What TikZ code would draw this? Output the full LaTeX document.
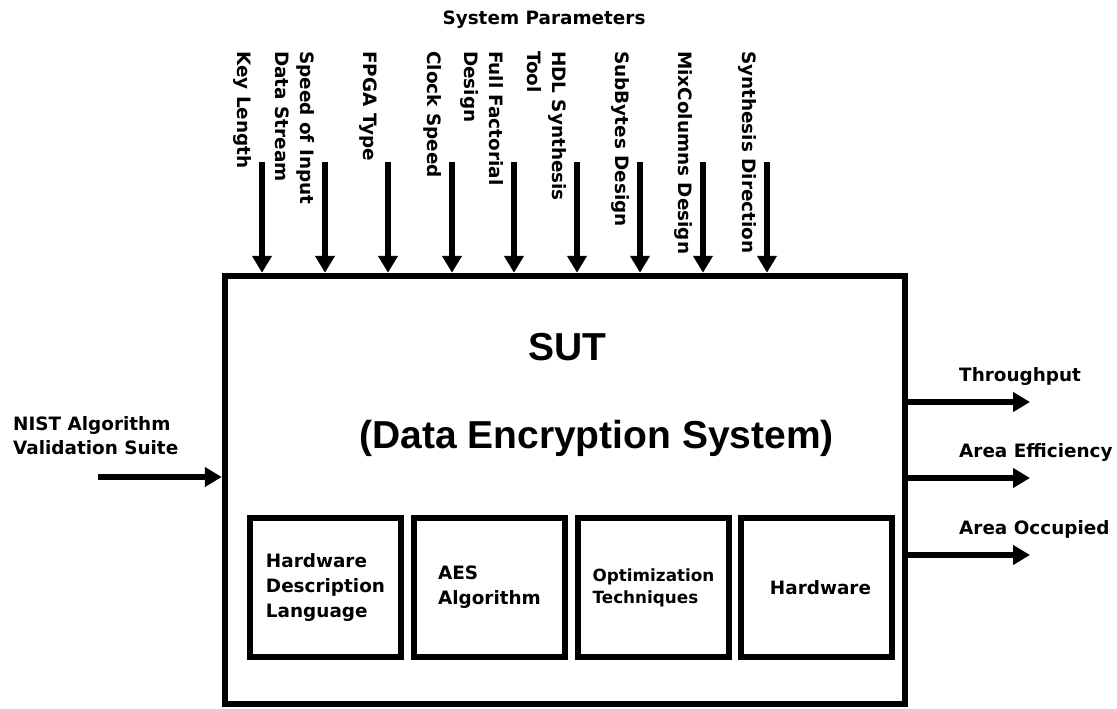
\documentclass[tikz,border=0pt]{standalone}
\usepackage{fontspec}
\setmainfont{DejaVu Sans}
\newfontfamily\titlefont{Liberation Sans}
\usetikzlibrary{arrows.meta}
\begin{document}
\begin{tikzpicture}[x=1pt,y=-1pt,
  lab/.style={font=\bfseries\fontsize{18.4}{24.5}\selectfont, inner sep=0pt, align=left},
  vlab/.style={lab, rotate=-90, anchor=north west},
  arr/.style={line width=6.7pt, -{Triangle[length=17pt,width=19pt]}},
  sutbox/.style={draw, line width=6.5pt, minimum width=680pt, minimum height=428pt, inner sep=0pt},
  subbox/.style={draw, line width=6pt, minimum width=151pt, minimum height=139pt, inner sep=0pt, align=left, font=\bfseries\fontsize{18.4}{25}\selectfont},
  ttl/.style={font=\titlefont\bfseries\fontsize{39}{45}\selectfont, inner sep=0pt, anchor=base}
]
\useasboundingbox (0,0) rectangle (1117,709);

\node[sutbox] (sut) at (565,490) {};

\node[ttl] (t1) at (567,360) {SUT};
\node[ttl] (t2) at (596.5,448) {(Data Encryption System)};

\node[subbox] (b1) at (325.5,587.5) {Hardware\\Description\\Language};
\node[subbox] (b2) at (489.5,587.5) {AES\\Algorithm};
\node[subbox, font=\bfseries\fontsize{16.8}{22}\selectfont] (b3) at (653.5,587.5) {Optimization\\Techniques};
\node[subbox] (b4) at (816.5,587.5) {\hspace*{8pt}Hardware};

% system parameters
\node[lab, anchor=base] (sp) at (544,25) {System Parameters};

\foreach \x/\n/\t in {262/p1/{Key Length}, 325/p2/{Speed of Input\\Data Stream}, 388/p3/{FPGA Type},
  452/p4/{Clock Speed}, 514/p5/{Full Factorial\\Design}, 577/p6/{HDL Synthesis\\Tool},
  640/p7/{SubBytes Design}, 703/p8/{MixColumns Design}, 767/p9/{Synthesis Direction}}{
  \coordinate (\n) at (\x,162);
  \node[vlab] (l\n) at (\x-10.5,51) {\t};
  \draw[arr] (\n) -- (\n |- sut.north);
}

% input
\node[lab, anchor=north west] (nist) at (13,416) {NIST Algorithm\\Validation Suite};
\coordinate (in) at (98,477);
\draw[arr] (in) -- (in -| sut.west);

% outputs
\node[lab, anchor=base west] (thr) at (959,381) {Throughput};
\node[lab, anchor=base west] (aef) at (959,457) {Area Efficiency};
\node[lab, anchor=base west] (aoc) at (959,534) {Area Occupied};
\coordinate (o1) at (1030,402);
\coordinate (o2) at (1030,478);
\coordinate (o3) at (1030,555);
\draw[arr] (o1 -| sut.east) -- (o1);
\draw[arr] (o2 -| sut.east) -- (o2);
\draw[arr] (o3 -| sut.east) -- (o3);
\end{tikzpicture}
\end{document}
